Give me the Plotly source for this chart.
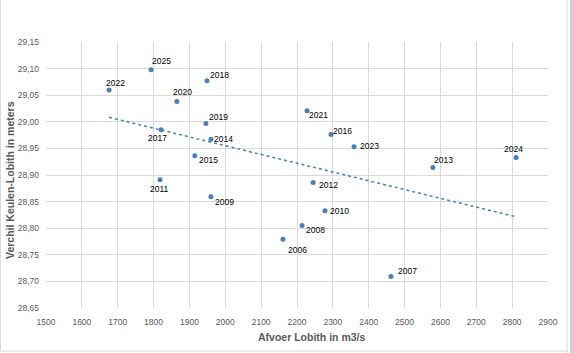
import numpy as np
import plotly.graph_objects as go

years = ["2025", "2022", "2020", "2017", "2015", "2011", "2018", "2019", "2014", "2021",
         "2016", "2023", "2009", "2012", "2010", "2008", "2006", "2007", "2013", "2024"]
afvoer = [1793, 1676, 1865, 1821, 1915, 1818, 1949, 1946, 1960, 2228,
          2295, 2359, 1960, 2245, 2278, 2214, 2161, 2462, 2579, 2811]
verschil = [29.098, 29.060, 29.038, 28.985, 28.936, 28.891, 29.077, 28.997, 28.967, 29.021,
            28.976, 28.953, 28.859, 28.886, 28.833, 28.805, 28.779, 28.709, 28.914, 28.933]
x_ticks = [1500, 1600, 1700, 1800, 1900, 2000, 2100, 2200, 2300, 2400, 2500, 2600, 2700, 2800, 2900]

# label offsets in pixels (dx, dy; dy positive = up)
label_dx = [10, 6, 6, -4, 14, -1, 12, 13, 13, 11, 11, 15, 14, 15, 15, 13, 14, 17, 11, -3]
label_dy = [9, 7, 10, -8, -4, -9, 6, 6, 0, -4, 4, 1, -5, -3, 0, -4, -11, 6, 8, 8]

blue = "#4A7EBB"
grey_txt = "#595959"

slope, intercept = np.polyfit(afvoer, verschil, 1)
xt = [min(afvoer), max(afvoer)]
yt = [slope * v + intercept for v in xt]

fig = go.Figure()
fig.add_trace(go.Scatter(x=xt, y=yt, mode="lines",
                         line=dict(color=blue, width=1.5, dash="dot"),
                         hoverinfo="skip", showlegend=False))
fig.add_trace(go.Scatter(x=afvoer, y=verschil, mode="markers",
                         marker=dict(color=blue, size=5, symbol="circle"),
                         showlegend=False))

for yr, xv, yv, dx, dy in zip(years, afvoer, verschil, label_dx, label_dy):
    fig.add_annotation(x=xv, y=yv, text=yr, showarrow=False, xshift=dx, yshift=dy,
                       font=dict(family="Liberation Sans", size=8.5, color="#000000"))

fig.add_annotation(xref="paper", yref="paper", x=(312 - 46) / 502, y=(308 - 337) / 266,
                   xanchor="center", yanchor="middle",
                   text="<b>Afvoer Lobith in m3/s</b>", showarrow=False,
                   font=dict(family="Liberation Sans", size=10.5, color=grey_txt))
fig.add_annotation(xref="paper", yref="paper", x=(10 - 46) / 502, y=(308 - 180) / 266,
                   xanchor="center", yanchor="middle",
                   text="<b>Verchil Keulen-Lobith in meters</b>", showarrow=False, textangle=-90,
                   font=dict(family="Liberation Sans", size=10.5, color=grey_txt))

# chart border / sheet edges
fig.add_shape(type="line", xref="paper", yref="paper", x0=(0.5 - 46) / 502, x1=(0.5 - 46) / 502,
              y0=(308 - 351) / 266, y1=(308 + 42) / 266, line=dict(color="#D9D9D9", width=1))
fig.add_shape(type="line", xref="paper", yref="paper", x0=(0 - 46) / 502, x1=(567 - 46) / 502,
              y0=(308 - 351) / 266, y1=(308 - 351) / 266, line=dict(color="#D9D9D9", width=1))
fig.add_shape(type="line", xref="paper", yref="paper", x0=(567 - 46) / 502, x1=(567 - 46) / 502,
              y0=(308 - 353) / 266, y1=(308 + 42) / 266, line=dict(color="#D9D9D9", width=1))
fig.add_shape(type="rect", xref="paper", yref="paper", x0=(570 - 46) / 502, x1=(573 - 46) / 502,
              y0=(308 - 353) / 266, y1=(308 + 45) / 266, line=dict(width=0),
              fillcolor="#D0D0D0")

fig.update_layout(
    width=573, height=353,
    margin=dict(l=46, r=25, t=42, b=45),
    paper_bgcolor="white", plot_bgcolor="white",
    separators=",.",
    font=dict(family="Liberation Sans", size=9, color=grey_txt),
    xaxis=dict(range=[1500, 2900], tickvals=x_ticks, showgrid=True, gridcolor="#D9D9D9",
               gridwidth=1, zeroline=False, showline=False, ticks="", ticklabelstandoff=7,
               tickfont=dict(size=8.5, color=grey_txt), fixedrange=True),
    yaxis=dict(range=[28.65, 29.15], dtick=0.05, tickformat=".2f", showgrid=True,
               gridcolor="#D9D9D9", gridwidth=1, zeroline=False, showline=False, ticks="",
               ticklabelstandoff=6,
               tickfont=dict(size=8.5, color=grey_txt), fixedrange=True),
)

fig.write_html("out.html")
